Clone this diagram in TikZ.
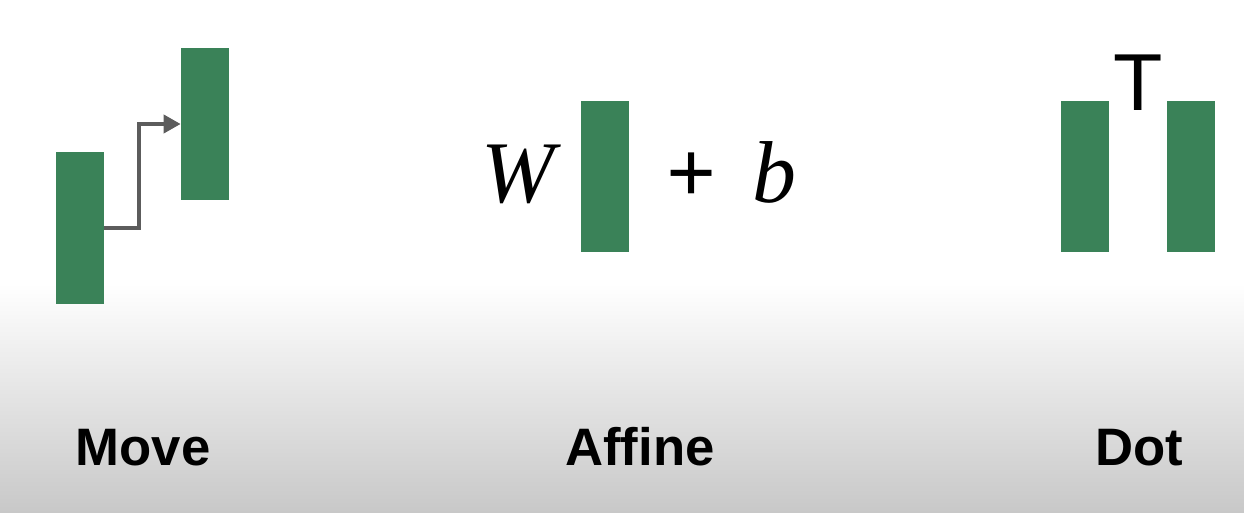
\documentclass[tikz,border=0pt]{standalone}
\usepackage{fontspec}
\setmainfont{Liberation Serif}
\newfontfamily\labelfont{Liberation Sans}
\usetikzlibrary{arrows.meta}

\definecolor{bargreen}{RGB}{58,130,88}
\definecolor{arrowgray}{RGB}{92,92,92}
\definecolor{floorgray}{RGB}{200,200,200}

\tikzset{
  bar/.style={fill=bargreen, draw=none, minimum width=0.96cm, minimum height=3.03cm, inner sep=0pt},
  optitle/.style={font=\labelfont\bfseries\fontsize{30}{36}\selectfont, anchor=base, inner sep=0pt},
  formula/.style={font=\fontsize{50}{60}\selectfont, anchor=base, inner sep=0pt},
  movearrow/.style={draw=arrowgray, line width=2.2pt, -{Triangle[length=0.34cm,width=0.36cm]}}
}

\begin{document}
\begin{tikzpicture}[x=0.02cm,y=0.02cm]

\useasboundingbox (0,0) rectangle (1244,513);
\fill[white] (0,0) rectangle (1244,513);
\shade[top color=white, bottom color=floorgray] (0,0) rectangle (1244,230);

% move
\node[bar] (m1) at (80,285) {};
\node[bar] (m2) at (205,389) {};
\draw[movearrow] (m1.east) -- ++(35,0) |- (m2.west);

% affine
\node[formula] (w) at (521,310) {\textit{W}};
\node[bar] (a1) at (605,336.5) {};
\node[formula] (plus) at (692,310) {\textbf{+}};
\node[formula] (b) at (774,310) {\textit{b}};

% dot
\node[bar] (d1) at (1085,336.5) {};
\node[bar] (d2) at (1190.5,336.5) {};
\node[font=\labelfont\fontsize{46}{55}\selectfont, anchor=base, inner sep=0pt] (t) at (1138,402) {T};

\node[optitle] (move) at (143,47) {Move};
\node[optitle] (affine) at (640,47) {Affine};
\node[optitle] (dot) at (1139,47) {Dot};

\end{tikzpicture}
\end{document}
